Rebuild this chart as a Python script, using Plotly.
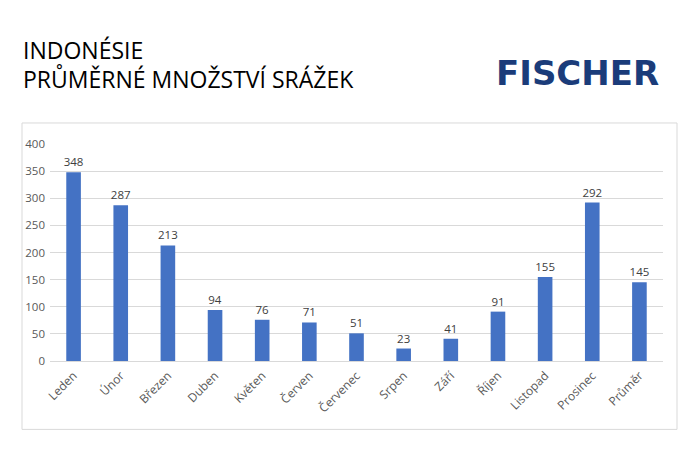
import plotly.graph_objects as go

categories = ["Leden", "Únor", "Březen", "Duben", "Květen", "Červen", "Červenec",
              "Srpen", "Září", "Říjen", "Listopad", "Prosinec", "Průměr"]
values = [348, 287, 213, 94, 76, 71, 51, 23, 41, 91, 155, 292, 145]
y_ticks = [0, 50, 100, 150, 200, 250, 300, 350, 400]

W, H = 700, 450
L, R = 50, 663
T, B = 144, 360.7

def px(x):
    return (x - L) / (R - L)

def py(y):
    return (B - y) / (B - T)

fig = go.Figure(go.Bar(
    x=categories, y=values,
    marker=dict(color="#4472C4", line=dict(width=0)),
    text=[str(v) for v in values], textposition="outside",
    textfont=dict(family="Open Sans", size=11.5, color="#404040"),
    constraintext="none",
    cliponaxis=False,
))

fig.update_layout(
    width=W, height=H,
    margin=dict(l=L, r=W - R, t=T, b=H - B, pad=0),
    paper_bgcolor="white", plot_bgcolor="white",
    bargap=0.69,
    showlegend=False,
    font=dict(family="Open Sans", color="#595959"),
    xaxis=dict(
        tickangle=-45, tickfont=dict(size=12, color="#595959"),
        showgrid=False, showline=True, linecolor="#d9d9d9", linewidth=1,
        ticks="", ticklabelstandoff=2,
    ),
    yaxis=dict(
        range=[0, 400], tickvals=y_ticks, ticktext=[str(t) for t in y_ticks],
        tickfont=dict(size=11.5, color="#595959"),
        showgrid=True, gridcolor="#d9d9d9", gridwidth=1,
        zeroline=False, showline=False, ticks="", ticklabelstandoff=4,
    ),
    shapes=[dict(type="rect", xref="paper", yref="paper",
                 x0=px(22), x1=px(677), y0=py(429), y1=py(123),
                 line=dict(color="#d9d9d9", width=1), fillcolor="rgba(0,0,0,0)",
                 layer="below")],
    annotations=[
        dict(text="INDONÉSIE", xref="paper", yref="paper", x=px(21), y=py(50),
             xanchor="left", yanchor="middle", showarrow=False,
             font=dict(family="Open Sans", size=23, color="#000000")),
        dict(text="PRŮMĚRNÉ MNOŽSTVÍ SRÁŽEK", xref="paper", yref="paper", x=px(21), y=py(79),
             xanchor="left", yanchor="middle", showarrow=False,
             font=dict(family="Open Sans", size=23, color="#000000")),
        dict(text="<b>FISCHER</b>", xref="paper", yref="paper", x=px(577), y=py(73),
             xanchor="center", yanchor="middle", showarrow=False,
             font=dict(family="DejaVu Sans", size=34, color="#1B3C7A")),
    ],
)

fig.write_html("out.html")
